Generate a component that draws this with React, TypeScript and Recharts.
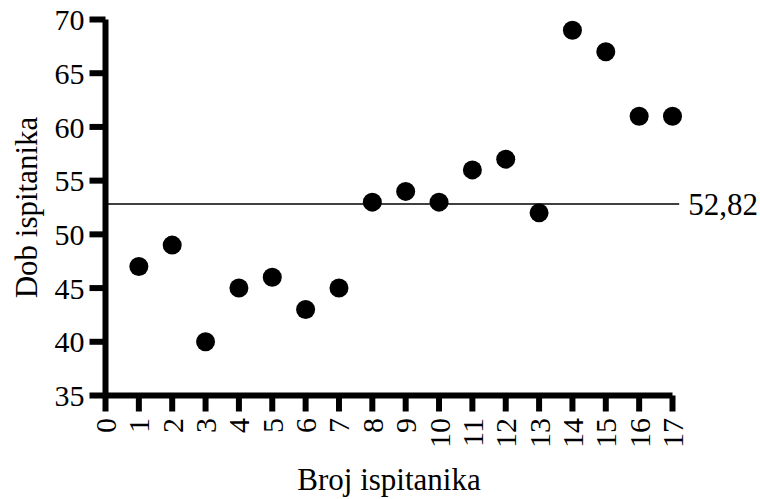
import { ReferenceLine, Scatter, ScatterChart, XAxis, YAxis } from "recharts";

// ─── data ────────────────────────────────────────────────────────────────────
const subjects = [1, 2, 3, 4, 5, 6, 7, 8, 9, 10, 11, 12, 13, 14, 15, 16, 17];
const ages = [47, 49, 40, 45, 46, 43, 45, 53, 54, 53, 56, 57, 52, 69, 67, 61, 61];
const xTicks = [0, 1, 2, 3, 4, 5, 6, 7, 8, 9, 10, 11, 12, 13, 14, 15, 16, 17];
const yTicks = [35, 40, 45, 50, 55, 60, 65, 70];
const meanAge = 52.82;
const meanLabel = "52,82";

const points = subjects.map((s, i) => ({ x: s, y: ages[i] }));

const FONT = "'Liberation Serif', 'Times New Roman', serif";

// thick axes + ticks; css wins over the attributes recharts writes
const css = `
.recharts-cartesian-axis-line,
.recharts-cartesian-axis-tick-line { stroke: #000 !important; stroke-width: 6px !important; }
`;

function XTick({ x, y, payload }: any) {
  const ty = y + 4.5;
  return (
    <text
      x={x}
      y={ty}
      dy="0.35em"
      transform={`rotate(-90, ${x}, ${ty})`}
      textAnchor="end"
      fontFamily={FONT}
      fontSize={30}
      fill="#000"
    >
      {payload.value}
    </text>
  );
}

export default function App() {
  return (
    <div style={{ position: "absolute", left: 0, top: 0, background: "#fff" }}>
      <style>{css}</style>
      <ScatterChart width={760} height={499} margin={{ top: 19.5, right: 87.5, bottom: 0, left: 0 }}>
        <XAxis
          type="number"
          dataKey="x"
          domain={[0, 17]}
          ticks={xTicks}
          interval={0}
          height={103.5}
          tickSize={16}
          tick={<XTick />}
          label={(props: any) => {
            const vb = props.viewBox;
            return (
              <text
                x={vb.x + vb.width / 2}
                y={490}
                textAnchor="middle"
                fontFamily={FONT}
                fontSize={31}
                fill="#000"
              >
                Broj ispitanika
              </text>
            );
          }}
        />
        <YAxis
          type="number"
          dataKey="y"
          domain={[35, 70]}
          ticks={yTicks}
          interval={0}
          width={105.5}
          tickSize={16}
          tickMargin={5}
          tick={{ fontFamily: FONT, fontSize: 30, fill: "#000" }}
          label={(props: any) => {
            const vb = props.viewBox;
            const cy = vb.y + vb.height / 2;
            return (
              <text
                x={26}
                y={cy}
                dy="0.35em"
                transform={`rotate(-90, 26, ${cy})`}
                textAnchor="middle"
                fontFamily={FONT}
                fontSize={31}
                fill="#000"
              >
                Dob ispitanika
              </text>
            );
          }}
        />
        <ReferenceLine
          segment={[
            { x: 0, y: meanAge },
            { x: 17.2, y: meanAge },
          ]}
          ifOverflow="visible"
          stroke="#000"
          strokeWidth={1.5}
          label={{
            value: meanLabel,
            position: "right",
            offset: 9,
            fontFamily: FONT,
            fontSize: 31,
            fill: "#000",
          }}
        />
        <Scatter
          data={points}
          isAnimationActive={false}
          shape={(p: any) => <circle cx={p.cx} cy={p.cy} r={9.5} fill="#000" />}
        />
      </ScatterChart>
    </div>
  );
}
